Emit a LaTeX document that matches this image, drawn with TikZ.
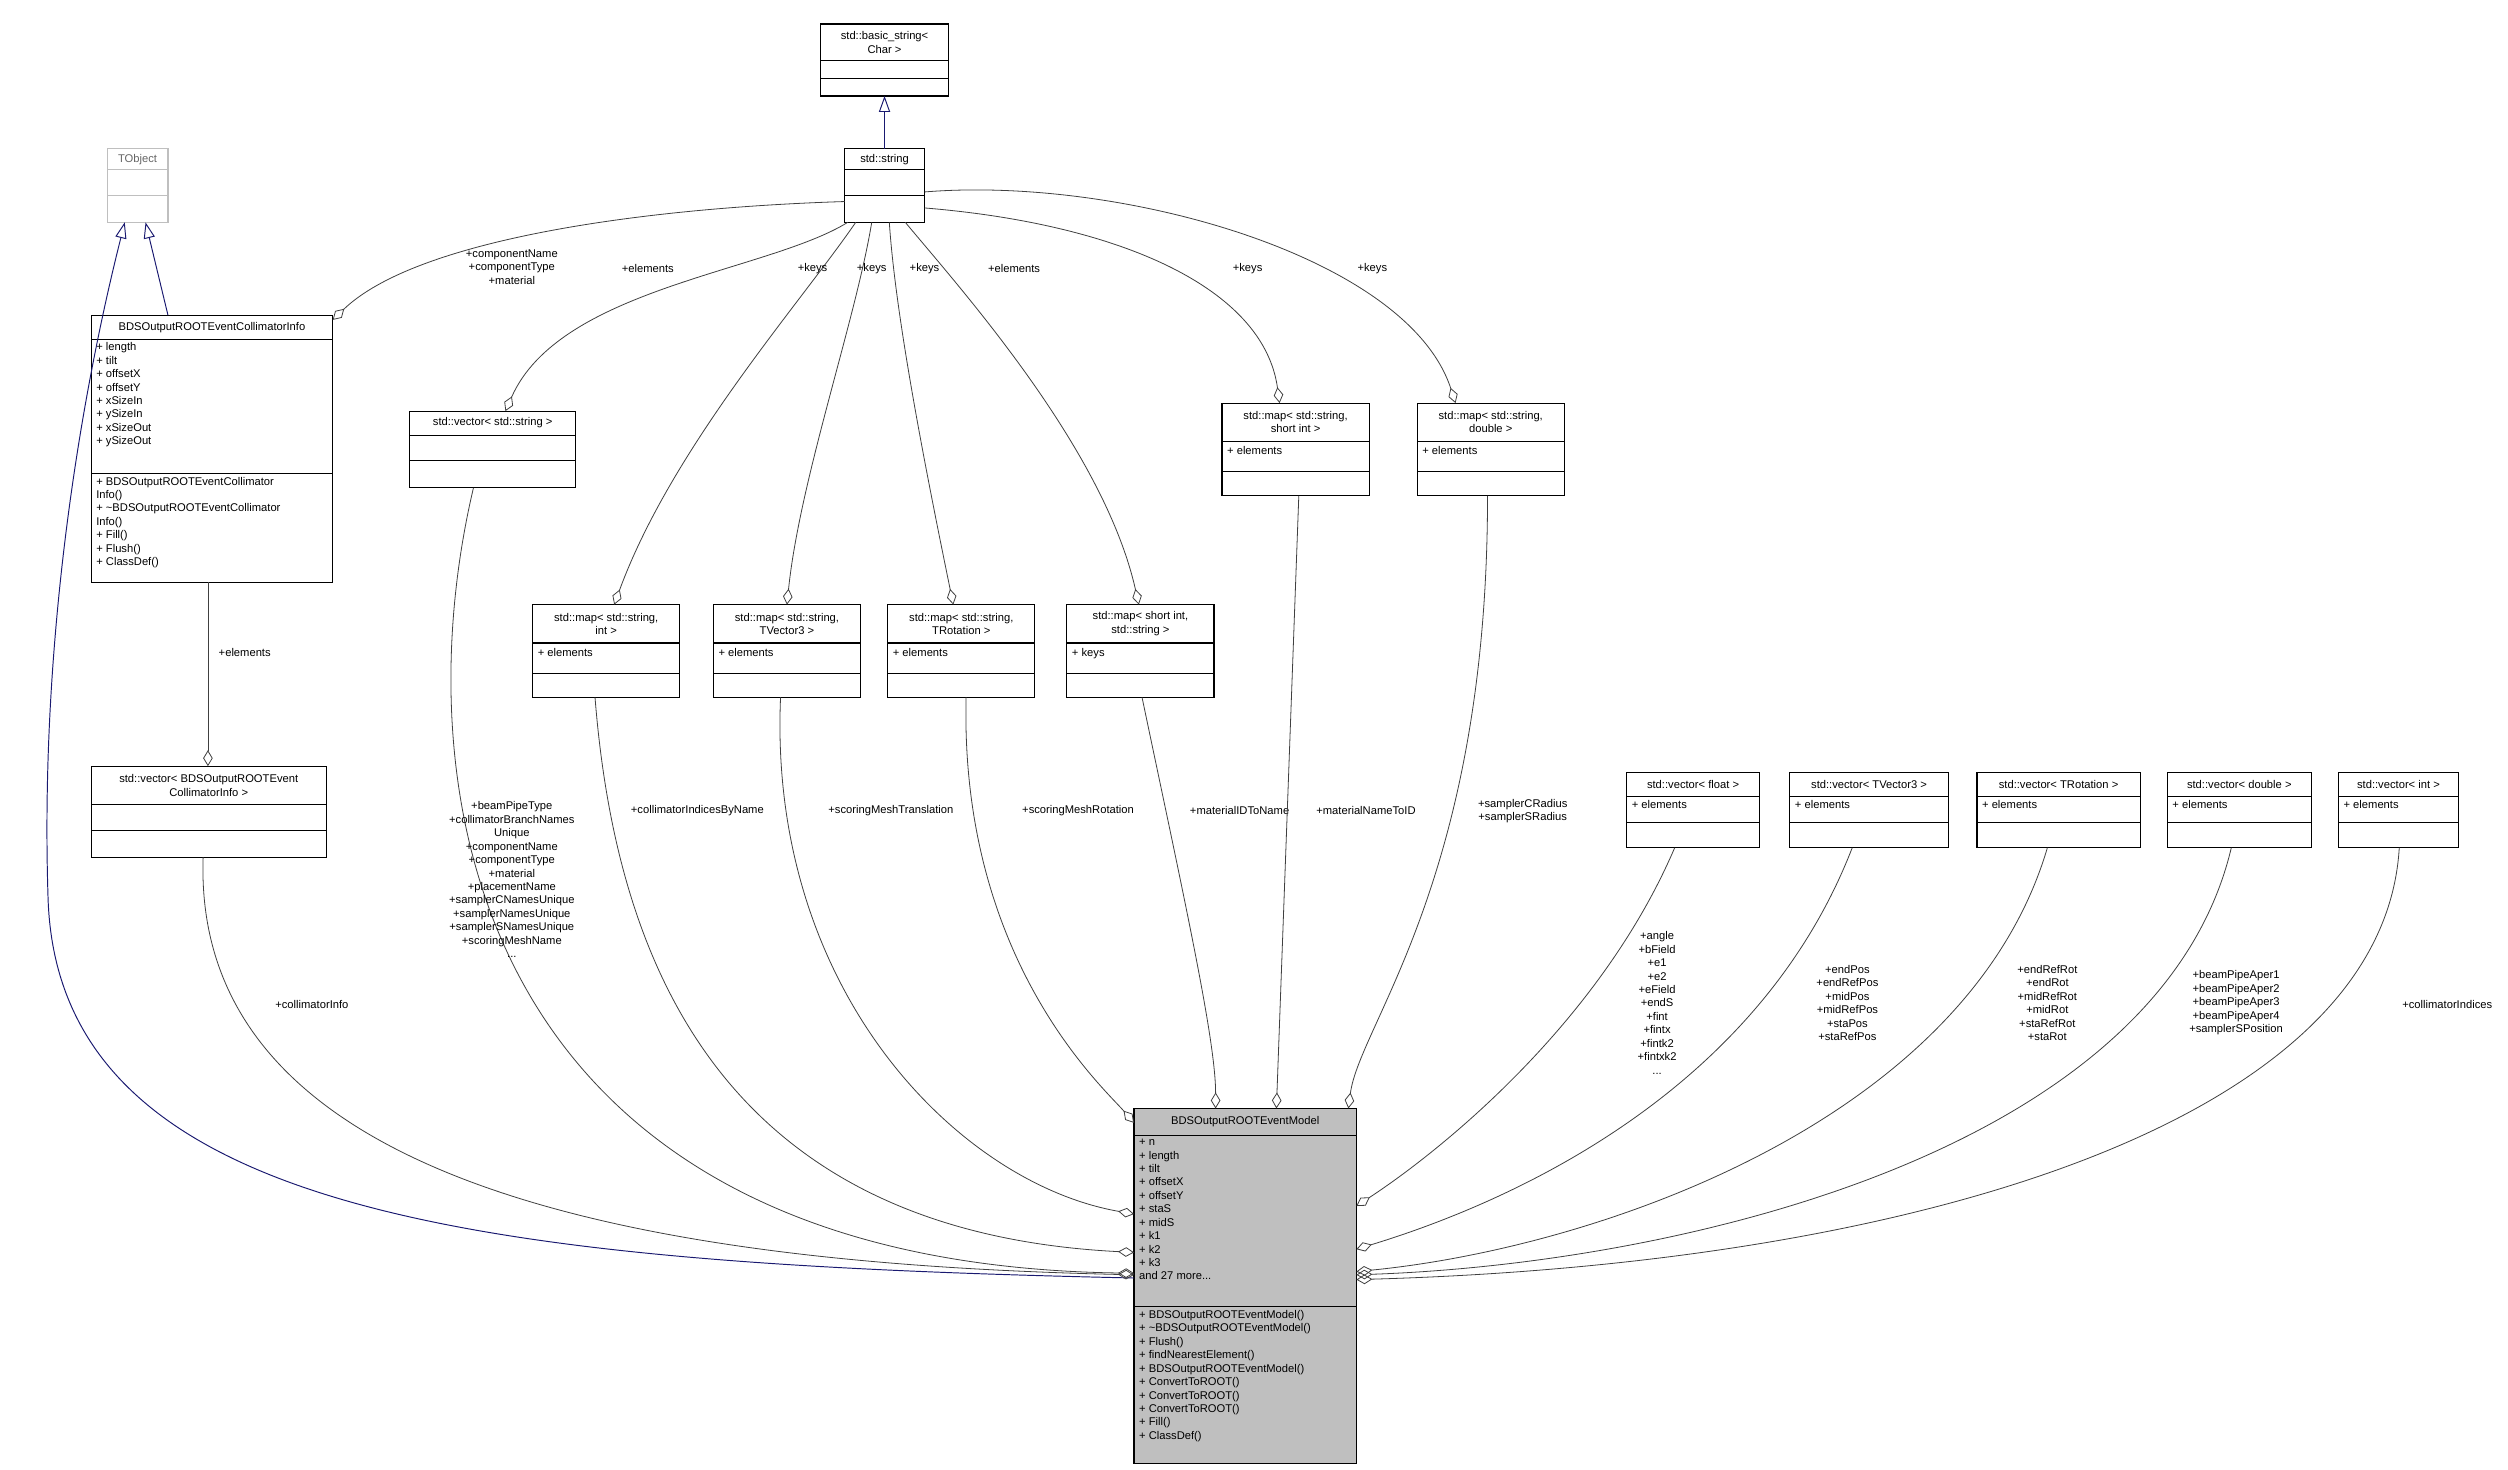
\documentclass[tikz,border=0pt]{standalone}
\usepackage{fontspec}
\setmainfont{Liberation Sans}
\usetikzlibrary{arrows.meta}
\definecolor{navy}{HTML}{191970}
\definecolor{gry}{HTML}{BFBFBF}
\tikzset{
  lbl/.style={font=\fontsize{7}{8.4}\selectfont, align=center, inner sep=0pt},
  txt/.style={font=\fontsize{7}{8.4}\selectfont, align=left, inner sep=1pt, anchor=north west},
  ttl/.style={font=\fontsize{7}{8.4}\selectfont, align=center, inner sep=0pt},
  agg/.style={draw=black!75, line width=0.5pt, {Diamond[open,length=10pt,width=6pt]}-},
  inh/.style={draw=navy, line width=0.6pt, -{Triangle[open,length=10pt,width=7pt]}},
}
\newcommand\cls[8][]{%
  \node[draw, line width=0.7pt, inner sep=0pt, outer sep=0pt, anchor=north west,
        minimum width={(#5-#3)*1pt}, minimum height={(#6-#4)*1pt}, #1] (#2) at (#3,#4) {};
  \draw[line width=0.7pt,#1] (#3,#7) -- (#5,#7) (#3,#8) -- (#5,#8);}
\begin{document}
\begin{tikzpicture}[x=1pt,y=-1pt]
\useasboundingbox[fill=white] (0,0) rectangle (1568,919);
% classes
\cls[draw=gry]{tobj}{67}{93}{105}{139}{106}{122}
\node[ttl,text=black!60] at (86,99.5) {TObject};
\cls{bstr}{513}{15}{593}{60}{38}{49}
\node[ttl] at (553,26.5) {std::basic\_string\textless\\Char \textgreater};
\cls{str}{528}{93}{578}{139}{106}{122}
\node[ttl] at (553,99.5) {std::string};
\cls{coll}{57}{197}{208}{364}{212}{296}
\node[ttl] at (132.5,204.5) {BDSOutputROOTEventCollimatorInfo};
\node[txt] at (59,213) {+ length\\+ tilt\\+ offsetX\\+ offsetY\\+ xSizeIn\\+ ySizeIn\\+ xSizeOut\\+ ySizeOut};
\node[txt] at (59,297) {+ BDSOutputROOTEventCollimator\\Info()\\+ \textasciitilde BDSOutputROOTEventCollimator\\Info()\\+ Fill()\\+ Flush()\\+ ClassDef()};
\cls{vstr}{256}{257}{360}{305}{272}{288}
\node[ttl] at (308,264.5) {std::vector\textless\ std::string \textgreater};
\cls{mint}{333}{378}{425}{436}{402}{421}
\node[ttl] at (379,390) {std::map\textless\ std::string,\\int \textgreater};
\node[txt] at (335,404) {+ elements};
\cls{mtv}{446}{378}{538}{436}{402}{421}
\node[ttl] at (492,390) {std::map\textless\ std::string,\\TVector3 \textgreater};
\node[txt] at (448,404) {+ elements};
\cls{mtr}{555}{378}{647}{436}{402}{421}
\node[ttl] at (601,390) {std::map\textless\ std::string,\\TRotation \textgreater};
\node[txt] at (557,404) {+ elements};
\cls{msi}{667}{378}{759}{436}{402}{421}
\node[ttl] at (713,390) {std::map\textless\ short int,\\std::string \textgreater};
\node[txt] at (669,404) {+ keys};
\cls{mss}{764}{252}{856}{310}{276}{295}
\node[ttl] at (810,264) {std::map\textless\ std::string,\\short int \textgreater};
\node[txt] at (766,278) {+ elements};
\cls{msd}{886}{252}{978}{310}{276}{295}
\node[ttl] at (932,264) {std::map\textless\ std::string,\\double \textgreater};
\node[txt] at (888,278) {+ elements};
\cls{vcoll}{57}{479}{204}{536}{503}{519}
\node[ttl] at (130.5,491) {std::vector\textless\ BDSOutputROOTEvent\\CollimatorInfo \textgreater};
\cls{vfl}{1017}{483}{1100}{530}{498}{514}
\node[ttl] at (1058.5,490.5) {std::vector\textless\ float \textgreater};
\node[txt] at (1019,499) {+ elements};
\cls{vtv}{1119}{483}{1218}{530}{498}{514}
\node[ttl] at (1168.5,490.5) {std::vector\textless\ TVector3 \textgreater};
\node[txt] at (1121,499) {+ elements};
\cls{vtr}{1236}{483}{1338}{530}{498}{514}
\node[ttl] at (1287,490.5) {std::vector\textless\ TRotation \textgreater};
\node[txt] at (1238,499) {+ elements};
\cls{vdb}{1355}{483}{1445}{530}{498}{514}
\node[ttl] at (1400,490.5) {std::vector\textless\ double \textgreater};
\node[txt] at (1357,499) {+ elements};
\cls{vin}{1462}{483}{1537}{530}{498}{514}
\node[ttl] at (1499.5,490.5) {std::vector\textless\ int \textgreater};
\node[txt] at (1464,499) {+ elements};
\cls[fill=gry]{main}{709}{693}{848}{915}{710}{817}
\node[ttl] at (778.5,701.5) {BDSOutputROOTEventModel};
\node[txt] at (711,711) {+ n\\+ length\\+ tilt\\+ offsetX\\+ offsetY\\+ staS\\+ midS\\+ k1\\+ k2\\+ k3\\and 27 more...};
\node[txt] at (711,818) {+ BDSOutputROOTEventModel()\\+ \textasciitilde BDSOutputROOTEventModel()\\+ Flush()\\+ findNearestElement()\\+ BDSOutputROOTEventModel()\\+ ConvertToROOT()\\+ ConvertToROOT()\\+ ConvertToROOT()\\+ Fill()\\+ ClassDef()};
% inheritance
\draw[inh] (str.north) -- (bstr.south);
\draw[inh] (105,197) -- (91,139);
\draw[inh] (main.west |- 0,799) .. controls (300,790) and (35,760) .. (30,560) .. controls (25,400) and (50,250) .. (78,139);
% std::string aggregations
\draw[agg] (coll.east |- 0,200) .. controls (260,150) and (400,130) .. (str.west |- 0,126);
\draw[agg] (vstr.north -| 316,0) .. controls (350,180) and (480,170) .. (str.south -| 530,0);
\draw[agg] (mint.north -| 384,0) .. controls (420,280) and (500,190) .. (str.south -| 535,0);
\draw[agg] (mtv.north -| 492,0) .. controls (500,300) and (535,200) .. (str.south -| 545,0);
\draw[agg] (mtr.north -| 596,0) .. controls (580,300) and (560,200) .. (str.south -| 556,0);
\draw[agg] (msi.north -| 712,0) .. controls (690,280) and (600,180) .. (str.south -| 566,0);
\draw[agg] (mss.north -| 800,0) .. controls (790,180) and (700,140) .. (str.east |- 0,130);
\draw[agg] (msd.north -| 910,0) .. controls (880,160) and (700,110) .. (str.east |- 0,120);
\node[lbl] at (320,167) {+componentName\\+componentType\\+material};
\node[lbl] at (405,168) {+elements};
\node[lbl] at (508,168) {+keys};
\node[lbl] at (545,168) {+keys};
\node[lbl] at (578,168) {+keys};
\node[lbl] at (634,168) {+elements};
\node[lbl] at (780,168) {+keys};
\node[lbl] at (858,168) {+keys};
\draw[agg] (vcoll.north -| 130,0) -- (coll.south -| 130,0);
\node[lbl] at (153,408) {+elements};
% main aggregations
\draw[agg] (main.west |- 0,797) .. controls (400,790) and (120,740) .. (vcoll.south -| 127,0);
\node[lbl] at (195,628) {+collimatorInfo};
\draw[agg] (main.west |- 0,796) .. controls (300,790) and (250,500) .. (vstr.south -| 296,0);
\node[lbl] at (320,550) {+beamPipeType\\+collimatorBranchNames\\Unique\\+componentName\\+componentType\\+material\\+placementName\\+samplerCNamesUnique\\+samplerNamesUnique\\+samplerSNamesUnique\\+scoringMeshName\\...};
\draw[agg] (main.west |- 0,783) .. controls (450,770) and (385,600) .. (mint.south -| 372,0);
\node[lbl] at (436,507) {+collimatorIndicesByName};
\draw[agg] (main.west |- 0,759) .. controls (600,740) and (480,620) .. (mtv.south -| 488,0);
\node[lbl] at (557,507) {+scoringMeshTranslation};
\draw[agg] (main.west |- 0,702) .. controls (690,680) and (600,600) .. (mtr.south -| 604,0);
\node[lbl] at (674,507) {+scoringMeshRotation};
\draw[agg] (main.north -| 760,0) .. controls (760,650) and (740,560) .. (msi.south -| 714,0);
\node[lbl] at (775,507) {+materialIDToName};
\draw[agg] (main.north -| 798,0) -- (mss.south -| 812,0);
\node[lbl] at (854,507) {+materialNameToID};
\draw[agg] (main.north -| 843,0) .. controls (850,640) and (930,550) .. (msd.south -| 930,0);
\node[lbl] at (952,507) {+samplerCRadius\\+samplerSRadius};
\draw[agg] (main.east |- 0,754) .. controls (900,720) and (1000,640) .. (vfl.south -| 1047,0);
\node[lbl] at (1036,627) {+angle\\+bField\\+e1\\+e2\\+eField\\+endS\\+fint\\+fintx\\+fintk2\\+fintxk2\\...};
\draw[agg] (main.east |- 0,781) .. controls (950,750) and (1100,680) .. (vtv.south -| 1158,0);
\node[lbl] at (1155,627) {+endPos\\+endRefPos\\+midPos\\+midRefPos\\+staPos\\+staRefPos};
\draw[agg] (main.east |- 0,795) .. controls (1000,780) and (1230,700) .. (vtr.south -| 1280,0);
\node[lbl] at (1280,627) {+endRefRot\\+endRot\\+midRefRot\\+midRot\\+staRefRot\\+staRot};
\draw[agg] (main.east |- 0,797) .. controls (1050,790) and (1350,720) .. (vdb.south -| 1395,0);
\node[lbl] at (1398,627) {+beamPipeAper1\\+beamPipeAper2\\+beamPipeAper3\\+beamPipeAper4\\+samplerSPosition};
\draw[agg] (main.east |- 0,800) .. controls (1200,790) and (1490,700) .. (vin.south -| 1500,0);
\node[lbl] at (1530,628) {+collimatorIndices};
\end{tikzpicture}
\end{document}
